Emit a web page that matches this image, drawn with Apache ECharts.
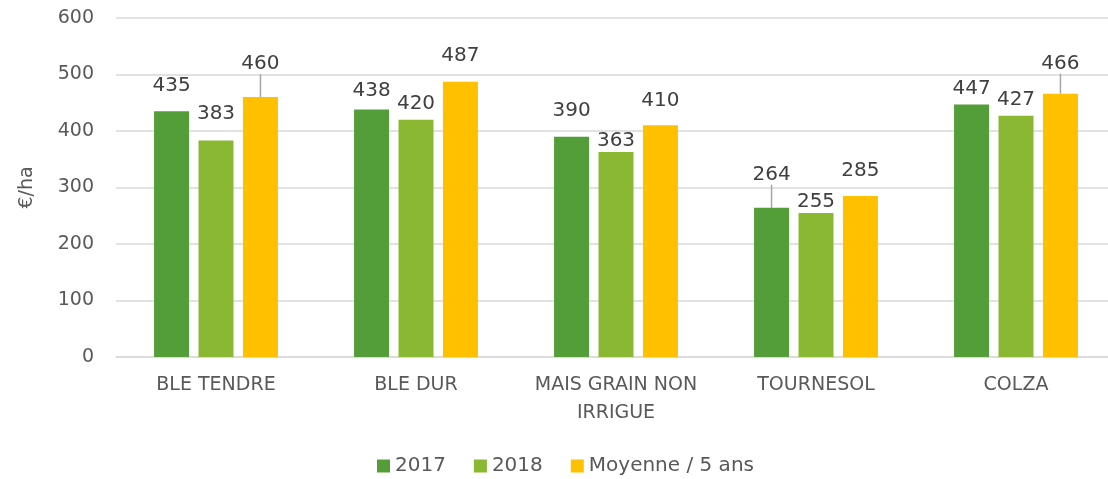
<!DOCTYPE html>
<html lang="fr">
<head>
    <meta charset="UTF-8">
    <title>Charges €/ha</title>
    <script src="https://cdn.jsdelivr.net/npm/echarts@6/dist/echarts.min.js"></script>
    <style>
        body { margin: 0; background: #fff; }
        #chart { width: 1108px; height: 479px; }
    </style>
</head>
<body>
    <div id="chart"></div>

    <script type="text/javascript">
        // données
        var categories = ['BLE TENDRE', 'BLE DUR', 'MAIS GRAIN NON\nIRRIGUE', 'TOURNESOL', 'COLZA'];
        var val2017 = [435, 438, 390, 264, 447];
        var val2018 = [383, 420, 363, 255, 427];
        var valMoy = [460, 487, 410, 285, 466];
        var yTicks = [0, 100, 200, 300, 400, 500, 600];

        // décalage vertical des étiquettes (comme Excel), et lignes de rappel
        var labelShift = [
            [-10, -4, -11, -18, -1],
            [-12, -1, 4, 4, -1],
            [-18, -11, -10, -10, -15]
        ];
        var leader = [
            [false, false, false, true, false],
            [false, false, false, false, false],
            [true, false, false, false, true]
        ];

        var colors = ['#549E39', '#8AB833', '#FFC000'];
        var names = ['2017', '2018', 'Moyenne / 5 ans'];
        var values = [val2017, val2018, valMoy];
        var font = '"DejaVu Sans", sans-serif';

        var chart = echarts.init(document.getElementById('chart'));

        function makeSeries(i) {
            return {
                name: names[i],
                type: 'bar',
                barWidth: 35,
                barGap: '27%',
                itemStyle: { color: colors[i] },
                data: values[i].map(function (v, k) {
                    return {
                        value: v,
                        labelLine: { show: leader[i][k], lineStyle: { color: '#a6a6a6', width: 1.5 }, length2: 0 }
                    };
                }),
                label: {
                    show: true,
                    position: 'top',
                    distance: 5,
                    color: '#404040',
                    fontSize: 20,
                    fontFamily: font
                },
                labelLayout: function (p) {
                    return { dy: labelShift[i][p.dataIndex] };
                }
            };
        }

        chart.setOption({
            animation: false,
            textStyle: { fontFamily: font },
            grid: { left: 116, width: 1000, top: 18, bottom: 122, outerBoundsMode: 'none', containLabel: false },
            legend: {
                bottom: -2,
                left: 372,
                itemWidth: 13,
                itemHeight: 13,
                itemGap: 28,
                itemTextGap: 7,
                icon: 'rect',
                textStyle: { fontSize: 20, color: '#595959', fontFamily: font },
                data: names
            },
            xAxis: {
                type: 'category',
                data: categories,
                axisLine: { lineStyle: { color: '#d9d9d9', width: 1.5 } },
                axisTick: { show: false },
                axisLabel: {
                    color: '#595959',
                    fontSize: 19,
                    lineHeight: 28,
                    margin: 14,
                    interval: 0
                }
            },
            yAxis: {
                type: 'value',
                min: yTicks[0],
                max: yTicks[yTicks.length - 1],
                interval: 100,
                name: '€/ha',
                nameLocation: 'middle',
                nameGap: 79,
                nameRotate: 90,
                nameTextStyle: { fontSize: 19, color: '#595959' },
                axisLine: { show: false },
                axisTick: { show: false },
                axisLabel: { color: '#595959', fontSize: 19, margin: 22 },
                splitLine: { lineStyle: { color: '#d9d9d9', width: 1.5 } }
            },
            series: [makeSeries(0), makeSeries(1), makeSeries(2)]
        });
    </script>
</body>
</html>
